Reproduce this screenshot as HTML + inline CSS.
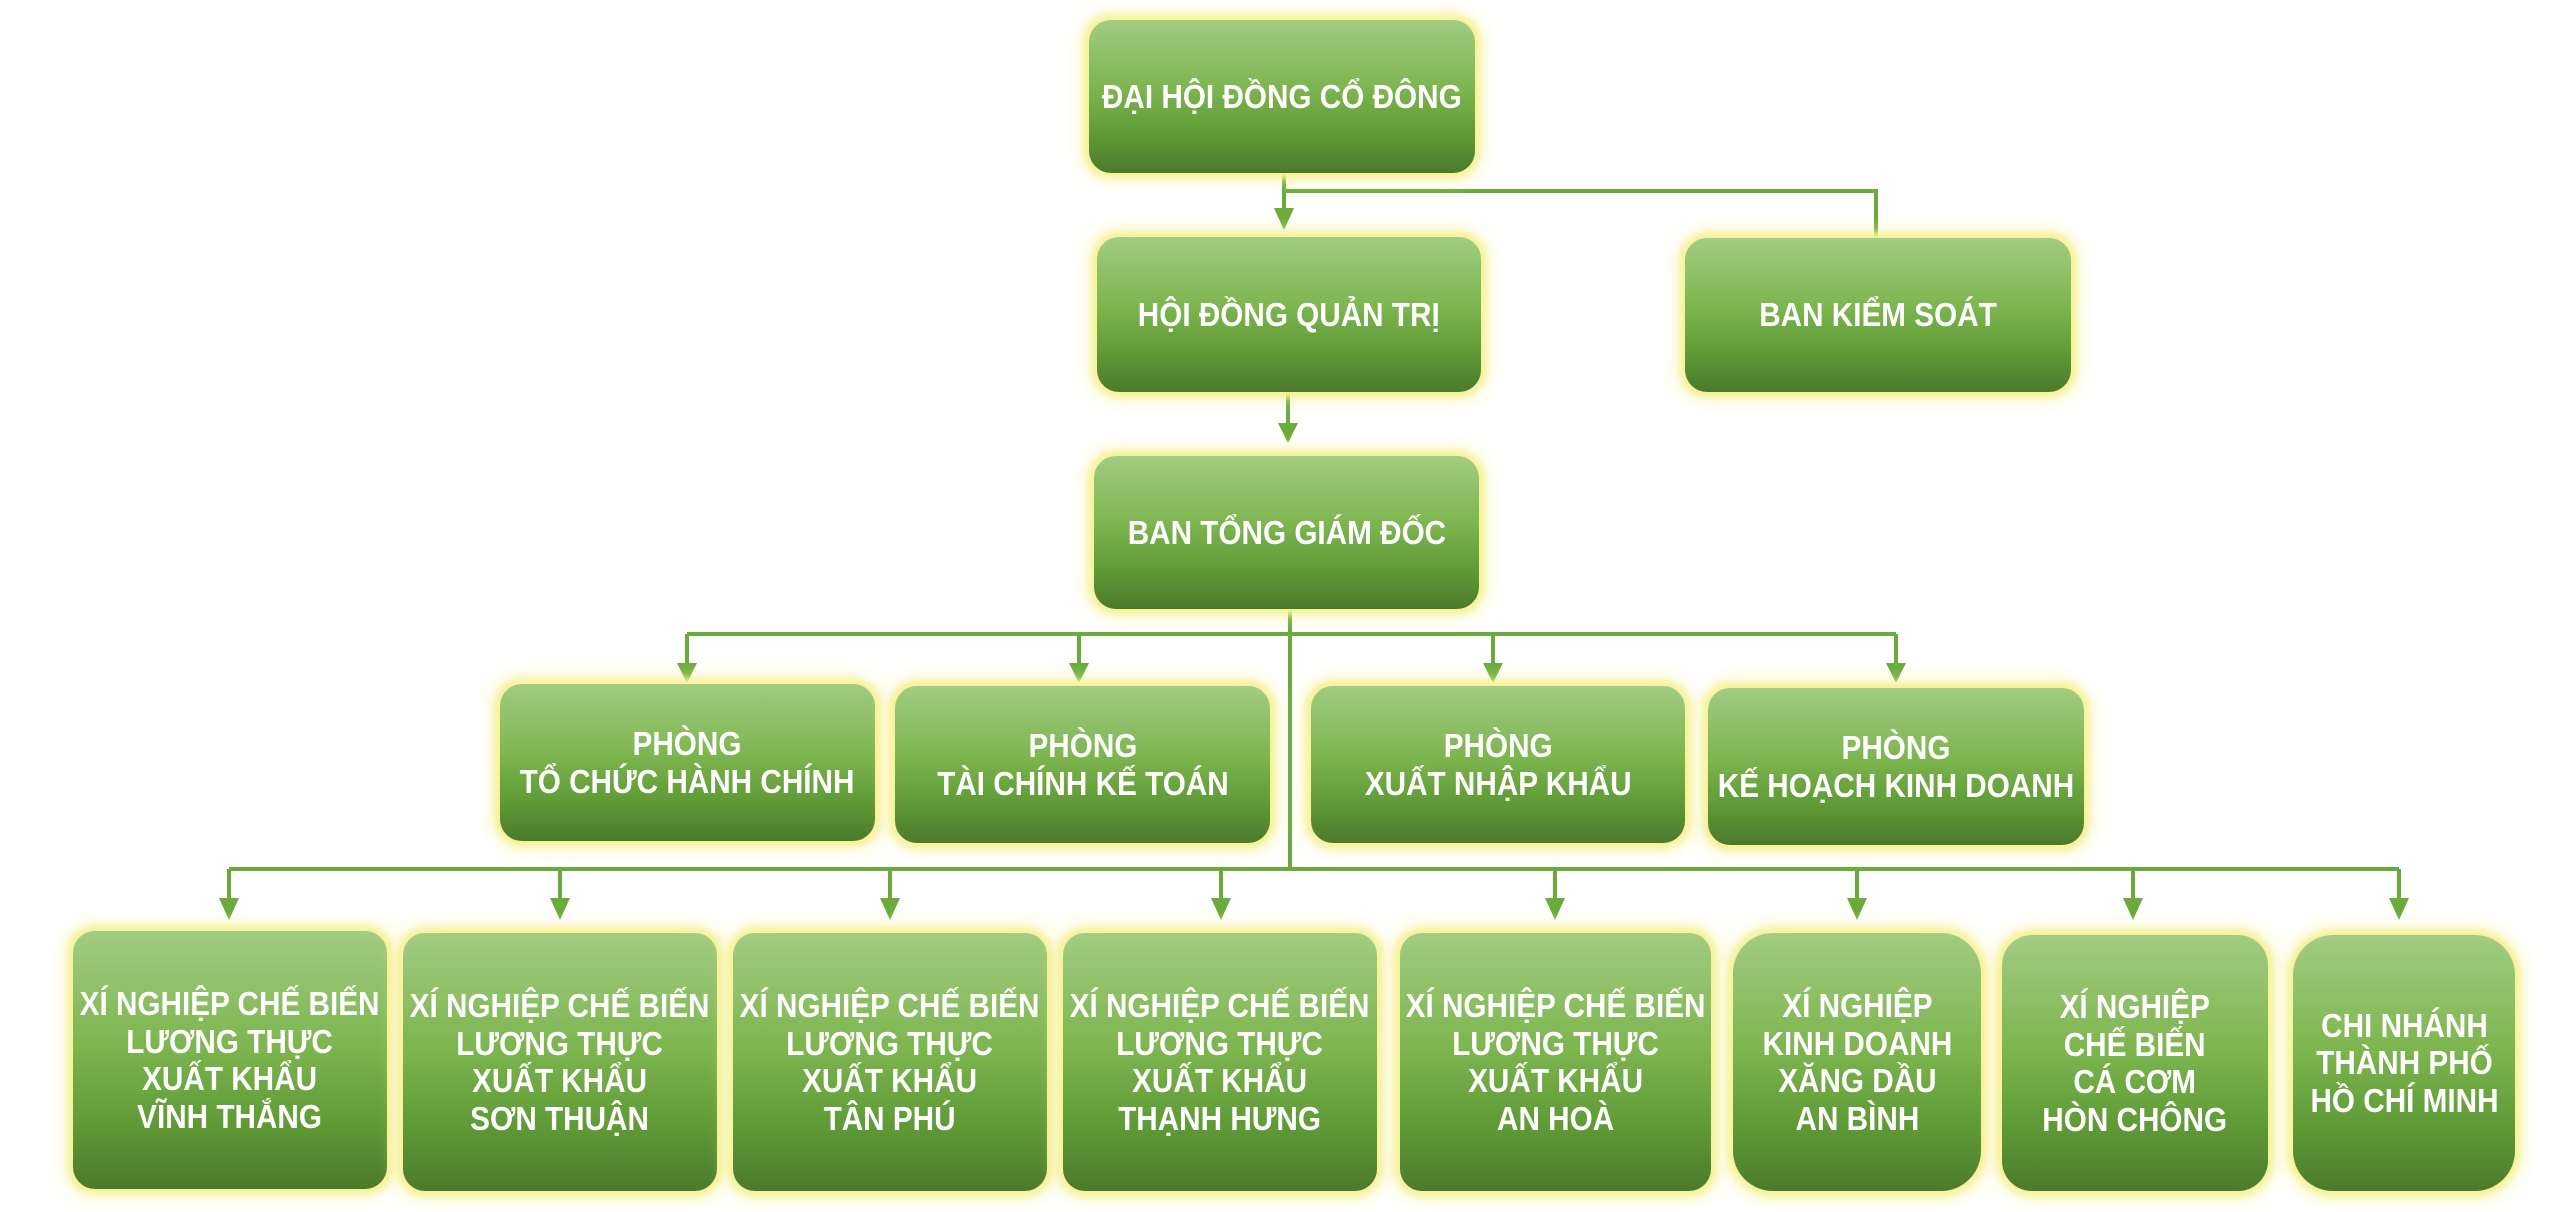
<!DOCTYPE html>
<html><head><meta charset="utf-8"><style>
html,body{margin:0;padding:0;background:#fff;}
body{width:2560px;height:1212px;position:relative;overflow:hidden;font-family:"Liberation Sans",sans-serif;}
.b{position:absolute;border-radius:22px;background:linear-gradient(#a2cc82 0%,#7db54f 45%,#5f9a36 75%,#4c7a2c 100%);box-shadow:0 0 6px 5px #f7f29a,0 0 16px 8px rgba(245,240,140,.55);display:flex;align-items:center;justify-content:center;text-align:center;color:#fff;font-weight:bold;font-size:33px;line-height:37.5px;}
.b span{display:inline-block;white-space:nowrap;transform:scaleX(0.9);}
svg{position:absolute;left:0;top:0;}
</style></head><body>
<svg width="2560" height="1212">
<g stroke="#6aab3c" stroke-width="4" fill="none">
<path d="M1284 173V210"/><path d="M1284 191H1876V238"/>
<path d="M1288 392V425"/>
<path d="M1290 609V869"/>
<path d="M687 634H1896"/>
<path d="M687 634V665M1079 634V665M1493 634V665M1896 634V665"/>
<path d="M229 869H2399"/>
<path d="M229 869V900M560 869V900M890 869V900M1221 869V900M1555 869V900M1857 869V900M2133 869V900M2399 869V900"/>
</g>
<g fill="#6aab3c">
<path d="M1274 208h20l-10 22z"/>
<path d="M1278 423h20l-10 20z"/>
<path d="M677 663h20l-10 20zM1069 663h20l-10 20zM1483 663h20l-10 20zM1886 663h20l-10 20z"/>
<path d="M219 898h20l-10 22zM550 898h20l-10 22zM880 898h20l-10 22zM1211 898h20l-10 22zM1545 898h20l-10 22zM1847 898h20l-10 22zM2123 898h20l-10 22zM2389 898h20l-10 22z"/>
</g>
</svg>
<div class="b" style="left:1089px;top:20px;width:386px;height:153px;"><span>ĐẠI HỘI ĐỒNG CỔ ĐÔNG</span></div>
<div class="b" style="left:1097px;top:237px;width:384px;height:155px;"><span>HỘI ĐỒNG QUẢN TRỊ</span></div>
<div class="b" style="left:1685px;top:238px;width:386px;height:154px;"><span>BAN KIỂM SOÁT</span></div>
<div class="b" style="left:1094px;top:456px;width:385px;height:153px;"><span>BAN TỔNG GIÁM ĐỐC</span></div>
<div class="b" style="left:500px;top:684px;width:375px;height:157px;"><span>PHÒNG<br>TỔ CHỨC HÀNH CHÍNH</span></div>
<div class="b" style="left:895px;top:686px;width:375px;height:157px;"><span>PHÒNG<br>TÀI CHÍNH KẾ TOÁN</span></div>
<div class="b" style="left:1311px;top:686px;width:374px;height:157px;"><span>PHÒNG<br>XUẤT NHẬP KHẨU</span></div>
<div class="b" style="left:1708px;top:688px;width:376px;height:157px;"><span>PHÒNG<br>KẾ HOẠCH KINH DOANH</span></div>
<div class="b" style="left:73px;top:931px;width:314px;height:258px;"><span>XÍ NGHIỆP CHẾ BIẾN<br>LƯƠNG THỰC<br>XUẤT KHẨU<br>VĨNH THẮNG</span></div>
<div class="b" style="left:403px;top:933px;width:314px;height:258px;"><span>XÍ NGHIỆP CHẾ BIẾN<br>LƯƠNG THỰC<br>XUẤT KHẨU<br>SƠN THUẬN</span></div>
<div class="b" style="left:733px;top:933px;width:314px;height:258px;"><span>XÍ NGHIỆP CHẾ BIẾN<br>LƯƠNG THỰC<br>XUẤT KHẨU<br>TÂN PHÚ</span></div>
<div class="b" style="left:1063px;top:933px;width:314px;height:258px;"><span>XÍ NGHIỆP CHẾ BIẾN<br>LƯƠNG THỰC<br>XUẤT KHẨU<br>THẠNH HƯNG</span></div>
<div class="b" style="left:1400px;top:933px;width:311px;height:258px;"><span>XÍ NGHIỆP CHẾ BIẾN<br>LƯƠNG THỰC<br>XUẤT KHẨU<br>AN HOÀ</span></div>
<div class="b" style="left:1733px;top:933px;width:248px;height:258px;border-radius:40px;"><span>XÍ NGHIỆP<br>KINH DOANH<br>XĂNG DẦU<br>AN BÌNH</span></div>
<div class="b" style="left:2002px;top:935px;width:266px;height:256px;border-radius:30px;"><span>XÍ NGHIỆP<br>CHẾ BIẾN<br>CÁ CƠM<br>HÒN CHÔNG</span></div>
<div class="b" style="left:2293px;top:935px;width:222px;height:256px;border-radius:40px;"><span>CHI NHÁNH<br>THÀNH PHỐ<br>HỒ CHÍ MINH</span></div>
</body></html>
